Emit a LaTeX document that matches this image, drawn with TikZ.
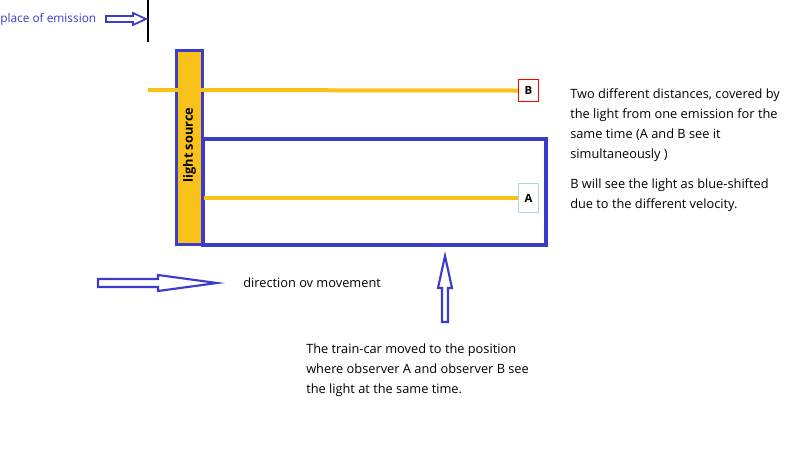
\documentclass[tikz,border=0pt]{standalone}
\usepackage{fontspec}
\setmainfont{Open Sans}
\definecolor{carblue}{HTML}{3C3CCC}
\definecolor{lightorange}{HTML}{F9C21A}
\definecolor{boxA}{HTML}{A8D8E8}
\tikzset{
  note/.style={anchor=west,font=\fontsize{9.6}{15}\selectfont,align=left,inner sep=0pt},
  hollow/.style={draw=carblue,line width=1.6pt,fill=white,line join=miter},
  ray/.style={lightorange,line width=3pt},
  observer/.style={draw,line width=0.8pt,minimum width=15pt,minimum height=17pt,inner sep=0pt,font=\fontsize{8.5}{10}\selectfont\bfseries}
}
\begin{document}
\begin{tikzpicture}[x=0.75pt,y=-0.75pt]
  \useasboundingbox (0,0) rectangle (800,451);

  % place of emission
  \node[note,text=carblue,font=\fontsize{8.9}{10}\selectfont] (emit) at (0,19) {place of emission};
  \draw[black,line width=1.5pt] (148,0) -- (148,42);
  \draw[hollow,line width=1.3pt] (106,16) -- (133,16) -- (133,13) -- (146,19) -- (133,25) -- (133,22) -- (106,22) -- cycle;

  % train car
  \draw[carblue,line width=2.4pt] (203,139) rectangle (546,245);

  % rays
  \coordinate (rayB) at (148,90);
  \node[observer,draw=red] (B) at (528.5,90.5) {B};
  \node[observer,draw=boxA,minimum height=22pt] (A) at (528.5,198) {A};
  \draw[ray] (rayB) -- (B.west);
  \draw[ray] (203,198) -- (A.west);

  % light source
  \node[draw=carblue,fill=lightorange,line width=2.4pt,minimum width=19pt,minimum height=145pt,inner sep=0pt] (source) at (189.5,147.5) {};
  \draw[ray] (source.west |- rayB) -- (source.east |- rayB);
  \node[rotate=90,font=\fontsize{9.6}{10}\selectfont\bfseries] (sourcelabel) at (189.5,145) {light source};

  % explanations
  \node[note] (twodist) at (570,125) {Two different distances, covered by\\the light from one emission for the\\same time (A and B see it\\simultaneously )};
  \node[note] (blue) at (570,195) {B will see the light as blue-shifted\\due to the different velocity.};

  % movement
  \draw[hollow] (98,279) -- (158,279) -- (158,275) -- (217,283) -- (158,291) -- (158,287) -- (98,287) -- cycle;
  \node[note] (movelabel) at (243,283) {direction ov movement};

  % position marker
  \draw[hollow] (442,322) -- (442,288) -- (438,288) -- (445,256) -- (452,288) -- (448,288) -- (448,322) -- cycle;
  \node[note] (poslabel) at (306,370) {The train-car moved to the position\\where observer A and observer B see\\the light at the same time.};
\end{tikzpicture}
\end{document}
